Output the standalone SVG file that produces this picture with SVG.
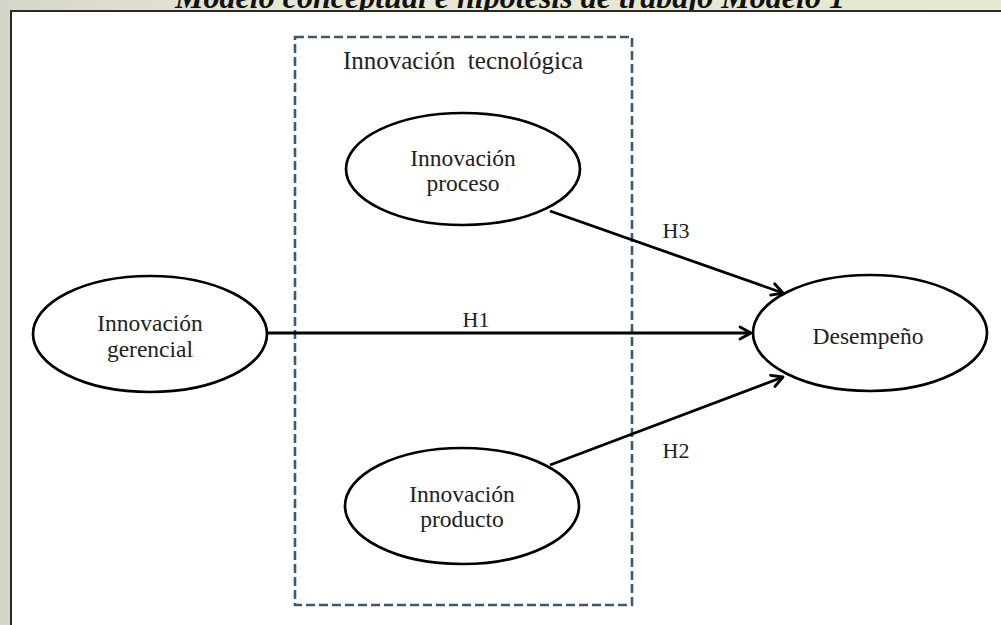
<svg xmlns="http://www.w3.org/2000/svg" width="1001" height="625" viewBox="0 0 1001 625">
<defs>
<linearGradient id="bg" x1="0" y1="0" x2="1" y2="0">
<stop offset="0" stop-color="#d6d5ca"/>
<stop offset="0.3" stop-color="#e9e8d6"/>
<stop offset="1" stop-color="#e7e8d2"/>
</linearGradient>
<marker id="arr" viewBox="0 0 16 16" refX="14" refY="8" markerWidth="16" markerHeight="16" markerUnits="userSpaceOnUse" orient="auto">
<path d="M3,2 L14,8 L3,14" fill="none" stroke="#000" stroke-width="2.8" stroke-linecap="round" stroke-linejoin="round"/>
</marker>
<style>
.node ellipse{fill:#fff;stroke:#000;stroke-width:2.7}
.lbl{font-family:"Liberation Serif","Times New Roman",serif;font-size:23.5px;fill:#222;text-anchor:middle}
.conn line{stroke:#000;stroke-width:2.8;marker-end:url(#arr)}
.group{fill:none;stroke:#3d5873;stroke-width:2.6;stroke-dasharray:9 4}
</style>
</defs>
<rect x="0" y="0" width="1001" height="625" fill="url(#bg)"/>
<text x="510" y="8" textLength="670" lengthAdjust="spacingAndGlyphs" font-family="'Liberation Serif','Times New Roman',serif" font-size="31" font-weight="bold" font-style="italic" text-anchor="middle" fill="#111">Modelo conceptual e hipótesis de trabajo Modelo 1</text>
<rect x="11" y="11" width="1000" height="630" fill="#fff" stroke="#2a2a2a" stroke-width="2"/>
<g id="tecnologica">
<rect class="group" x="295" y="37" width="337" height="568"/>
<text class="lbl" x="463" y="69" style="font-size:25px;white-space:pre">Innovación  tecnológica</text>
</g>
<g id="conectores" class="conn">
<line x1="268" y1="333" x2="751" y2="333"/>
<line x1="550" y1="211" x2="783" y2="293"/>
<line x1="550" y1="465" x2="783" y2="377"/>
</g>
<g id="etiquetas">
<text class="lbl" x="476" y="327" style="font-size:22px">H1</text>
<text class="lbl" x="676" y="238" style="font-size:22px">H3</text>
<text class="lbl" x="676" y="458" style="font-size:22px">H2</text>
</g>
<g id="gerencial" class="node">
<ellipse cx="150" cy="334" rx="117" ry="58"/>
<text class="lbl" x="150" y="331">Innovación</text>
<text class="lbl" x="150" y="357">gerencial</text>
</g>
<g id="proceso" class="node">
<ellipse cx="463" cy="169" rx="117" ry="56"/>
<text class="lbl" x="463" y="166">Innovación</text>
<text class="lbl" x="463" y="191">proceso</text>
</g>
<g id="producto" class="node">
<ellipse cx="462" cy="506" rx="117" ry="58"/>
<text class="lbl" x="462" y="502">Innovación</text>
<text class="lbl" x="462" y="527">producto</text>
</g>
<g id="desempeno" class="node">
<ellipse cx="870" cy="333" rx="117" ry="58"/>
<text class="lbl" x="868" y="344">Desempeño</text>
</g>
</svg>
